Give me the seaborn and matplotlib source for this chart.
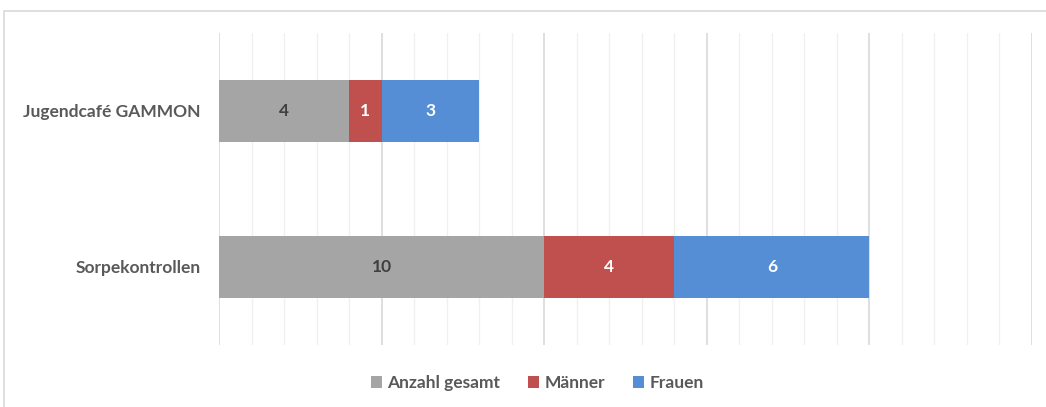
import matplotlib
matplotlib.use("Agg")
import matplotlib.pyplot as plt
import matplotlib.ticker as ticker
from matplotlib.patches import Rectangle
import seaborn as sns
import numpy as np

categories = ["Jugendcafé GAMMON", "Sorpekontrollen"]
series = ["Anzahl gesamt", "Männer", "Frauen"]
gesamt = [4, 10]
maenner = [1, 4]
frauen = [3, 6]

COLORS = ["#A5A5A5", "#C0504D", "#558ED5"]
LABEL_COLORS = ["#404040", "white", "white"]
TEXT = "#595959"

sns.set_style("white")
plt.rcParams['font.family'] = ['Lato', 'DejaVu Sans']

fig = plt.figure(figsize=(10.46, 4.07), dpi=100)
ax = fig.add_axes([219 / 1046, 1 - 345 / 407, (1032 - 219) / 1046, (345 - 33) / 407])

left = np.zeros(len(categories))
for name, vals, color, lc in zip(series, [gesamt, maenner, frauen], COLORS, LABEL_COLORS):
    sns.barplot(x=vals, y=categories, order=categories, orient="h", color=color,
                left=left, width=0.4, linewidth=0, saturation=1, ax=ax, label=name)
    ax.bar_label(ax.containers[-1], labels=[str(v) for v in vals], label_type="center",
                 color=lc, fontsize=12.5, fontweight="bold")
    left = left + np.array(vals)

if ax.get_legend() is not None:
    ax.get_legend().remove()

ax.set_xlim(0, 25)
ax.set_ylim(1.5, -0.5)
ax.xaxis.set_major_locator(ticker.MultipleLocator(5))
ax.xaxis.set_minor_locator(ticker.MultipleLocator(1))
ax.grid(True, axis="x", which="major", color="#D9D9D9", linewidth=1.2)
ax.grid(True, axis="x", which="minor", color="#F0F0F0", linewidth=1.0)
ax.set_axisbelow(True)
ax.tick_params(axis="x", which="both", length=0, labelbottom=False)
ax.tick_params(axis="y", length=0, pad=13)
for lab in ax.get_yticklabels():
    lab.set_color(TEXT)
    lab.set_fontweight("bold")
    lab.set_fontsize(12.5)
for s in ax.spines.values():
    s.set_visible(False)
ax.set_xlabel("")
ax.set_ylabel("")

handles, labels = ax.get_legend_handles_labels()
fig.legend(handles, labels, loc="center", bbox_to_anchor=(537 / 1046, 1 - 383 / 407), ncol=3,
           frameon=False, handlelength=0.65, handleheight=0.65, handletextpad=0.3, columnspacing=1.6,
           prop={"weight": "bold", "size": 12.5}, labelcolor=TEXT)

fig.patches.append(Rectangle((4 / 1046, -0.05), 1.0, 1 - 11 / 407 + 0.05, transform=fig.transFigure,
                             fill=False, edgecolor="#D9D9D9", linewidth=1.2))

fig.savefig("out.png", dpi=100)
